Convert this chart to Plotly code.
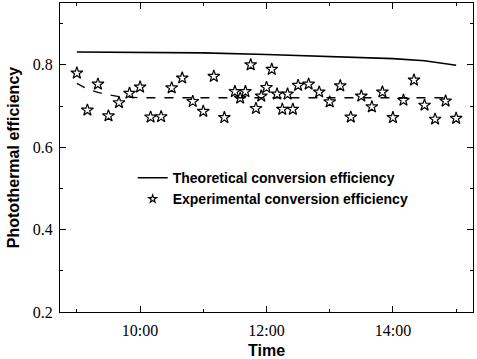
import plotly.graph_objects as go

# Experimental points
exp_times = ["09:00", "09:10", "09:20", "09:30", "09:40", "09:50", "10:00", "10:10", "10:20",
             "10:30", "10:40", "10:50", "11:00", "11:10", "11:20", "11:30", "11:35", "11:40",
             "11:45", "11:50", "11:55", "12:00", "12:05", "12:10", "12:15", "12:20", "12:25",
             "12:30", "12:40", "12:50", "13:00", "13:10", "13:20", "13:30", "13:40", "13:50",
             "14:00", "14:10", "14:20", "14:30", "14:40", "14:50", "15:00"]
exp_values = [0.780, 0.690, 0.753, 0.676, 0.708, 0.731, 0.746, 0.673, 0.674,
              0.744, 0.768, 0.711, 0.687, 0.772, 0.672, 0.735, 0.719, 0.735,
              0.800, 0.694, 0.724, 0.745, 0.789, 0.729, 0.692, 0.729, 0.692,
              0.750, 0.753, 0.734, 0.710, 0.749, 0.673, 0.724, 0.698, 0.734,
              0.672, 0.714, 0.763, 0.702, 0.668, 0.712, 0.670]

# Theoretical curve
theo_times = ["09:00", "10:00", "11:00", "12:00", "13:00", "14:00", "14:30", "15:00"]
theo_values = [0.831, 0.830, 0.829, 0.825, 0.820, 0.815, 0.810, 0.799]

# Fitted (dashed) curve
fit_times = ["09:00", "09:10", "09:20", "09:30", "09:40", "09:50", "10:00", "12:00", "14:00", "14:50"]
fit_values = [0.755, 0.741, 0.733, 0.727, 0.723, 0.721, 0.720, 0.720, 0.720, 0.720]

DAY = "2024-01-01 "
def to_dt(lst):
    return [DAY + t for t in lst]

fig = go.Figure()
fig.add_trace(go.Scatter(x=to_dt(theo_times), y=theo_values, mode="lines",
                         line=dict(color="black", width=1.6),
                         name="<b>Theoretical conversion efficiency</b>"))
fig.add_trace(go.Scatter(x=to_dt(exp_times), y=exp_values, mode="markers",
                         marker=dict(symbol="star-open", size=9, color="black",
                                     line=dict(color="black", width=1.2)),
                         showlegend=False, name="exp"))
# legend-only entry with a smaller star symbol
fig.add_trace(go.Scatter(x=[None], y=[None], mode="markers",
                         marker=dict(symbol="star-open", size=6, color="black",
                                     line=dict(color="black", width=1.1)),
                         name="<b>Experimental conversion efficiency</b>"))
fig.add_trace(go.Scatter(x=to_dt(fit_times), y=fit_values, mode="lines",
                         line=dict(color="black", width=1.3, dash="dash"),
                         showlegend=False))

tickfont = dict(family="Times New Roman", size=16, color="black")
titlefont = dict(family="Liberation Sans, Arial, sans-serif", size=16, color="black")

fig.update_layout(
    width=477, height=359,
    margin=dict(l=60, r=4, t=3, b=47, autoexpand=False),
    plot_bgcolor="white", paper_bgcolor="white",
    font=dict(family="Times New Roman"),
    xaxis=dict(type="date", range=[DAY + "08:44", DAY + "15:16"],
               tickmode="linear", tick0=DAY + "10:00", dtick=7200000, tickformat="%H:%M",
               showline=True, linecolor="black", linewidth=1, mirror="ticks",
               ticks="inside", ticklen=6, tickwidth=1, tickcolor="black",
               showgrid=False, zeroline=False, automargin=False,
               tickfont=tickfont, ticklabelstandoff=4,
               minor=dict(ticks="inside", ticklen=3, tickcolor="black",
                          tick0=DAY + "09:00", dtick=3600000, showgrid=False),
               title=dict(text="<b>Time</b>", font=titlefont, standoff=6)),
    yaxis=dict(range=[0.2, 0.95],
               tickmode="linear", tick0=0.2, dtick=0.2,
               showline=True, linecolor="black", linewidth=1, mirror="ticks",
               ticks="inside", ticklen=6, tickwidth=1, tickcolor="black",
               showgrid=False, zeroline=False, automargin=False,
               tickfont=tickfont, ticklabelstandoff=3,
               minor=dict(ticks="inside", ticklen=3, tickcolor="black",
                          tick0=0.2, dtick=0.1, showgrid=False),
               title=dict(text="<b>Photothermal efficiency</b>", font=titlefont, standoff=9)),
    legend=dict(x=0.176, y=0.485, xanchor="left", yanchor="top",
                bgcolor="rgba(0,0,0,0)",
                font=dict(family="Liberation Sans, Arial, sans-serif", size=14, color="black"),
                itemwidth=30, tracegroupgap=0),
    showlegend=True,
)

fig.write_html("out.html", config={"displayModeBar": False},
               post_script="document.body.style.margin='0';")
